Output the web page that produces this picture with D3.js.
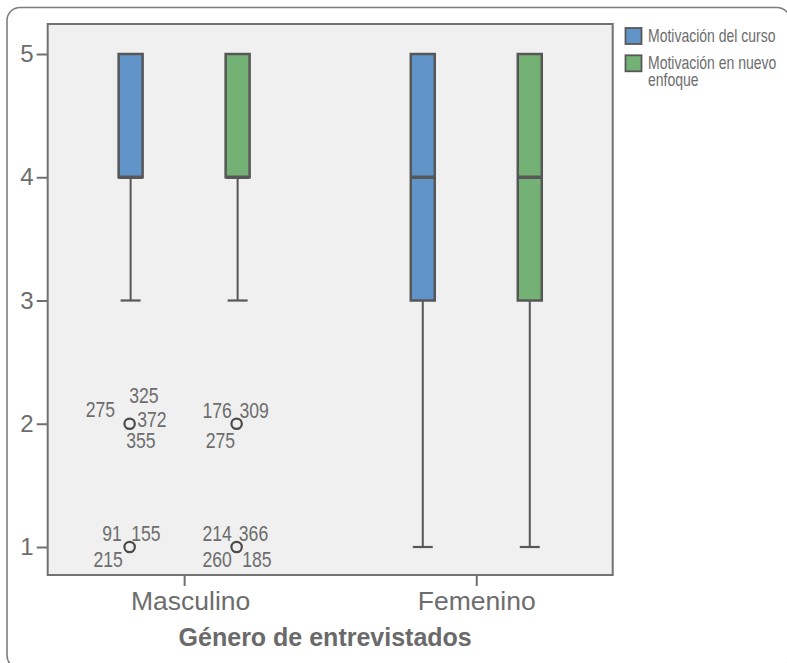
<!DOCTYPE html>
<html>
<head>
<meta charset="utf-8">
<script src="https://cdn.jsdelivr.net/npm/d3@7"></script>
<style>
  html, body { margin: 0; padding: 0; background: #fff; }
  svg { display: block; }
  .reg, .narrow { font-family: "Liberation Sans", Arial, sans-serif; }
</style>
</head>
<body>
<svg id="chart" width="787" height="663"></svg>
<script>
// Categories and series
const categories = ["Masculino", "Femenino"];
const seriesNames = ["Motivación del curso", "Motivación en nuevo enfoque"];
const seriesColors = ["#6094c9", "#73b274"];

// Box statistics per series, one value per category
const cursoLow    = [3, 1];
const cursoQ1     = [4, 3];
const cursoMedian = [4, 4];
const cursoQ3     = [5, 5];
const cursoHigh   = [5, 5];

const nuevoLow    = [3, 1];
const nuevoQ1     = [4, 3];
const nuevoMedian = [4, 4];
const nuevoQ3     = [5, 5];
const nuevoHigh   = [5, 5];

// Outlying cases (Masculino only): value and case ids
const outlierSeries = [0, 0, 1, 1];
const outlierValues = [2, 1, 2, 1];
const outlierIds = [
  ["275", "325", "372", "355"],
  ["91", "155", "215"],
  ["176", "309", "275"],
  ["214", "366", "260", "185"]
];

const yTicks = [1, 2, 3, 4, 5];
const xTitle = "Género de entrevistados";

// label placement around each outlier marker: [dx, dy, anchor]
const labelPlacement = [
  [[-14.5, -6.5, "end"], [-0.5, -20.3, "start"], [7.5, 3, "start"], [-3.5, 24.7, "start"]],
  [[-7.8, -6.3, "end"], [1.5, -6.3, "start"], [-6.8, 19.7, "end"]],
  [[-4.8, -6, "end"], [2.8, -6, "start"], [-1.5, 24.7, "end"]],
  [[-4.8, -6.3, "end"], [2.2, -6.3, "start"], [-4.8, 19.7, "end"], [5.5, 19.7, "start"]]
];

const boxes = [];
categories.forEach((c, i) => {
  boxes.push({cat: c, s: 0, low: cursoLow[i], q1: cursoQ1[i], med: cursoMedian[i], q3: cursoQ3[i], high: cursoHigh[i]});
  boxes.push({cat: c, s: 1, low: nuevoLow[i], q1: nuevoQ1[i], med: nuevoMedian[i], q3: nuevoQ3[i], high: nuevoHigh[i]});
});

const svg = d3.select("#chart");
const plot = {left: 47.7, top: 24, right: 612.7, bottom: 575};
const ink = "#575757";
const textCol = "#6d6d6d";
const narrowScale = 0.8;

// condensed text: horizontally squeezed around its anchor point
function narrowText(parent, tx, ty, str, size, anchor) {
  return parent.append("text").attr("class", "narrow")
    .attr("transform", `translate(${tx},${ty}) scale(${narrowScale},1)`)
    .attr("text-anchor", anchor || "start")
    .attr("font-size", size).attr("fill", textCol)
    .text(str);
}

// outer rounded frame (extends past the right/bottom edge)
svg.append("rect")
  .attr("x", 7).attr("y", 7.5)
  .attr("width", 783).attr("height", 661)
  .attr("rx", 13).attr("ry", 13)
  .attr("fill", "#fff").attr("stroke", "#7d7d7d").attr("stroke-width", 1.6);

const y = d3.scaleLinear().domain([1, 5]).range([547, 54]);
const x = d3.scalePoint().domain(categories).range([plot.left, plot.right]).padding(0.467);
const xs = d3.scaleBand().domain(d3.range(seriesNames.length)).range([-107, 107]);
const cx = d => x(d.cat) + xs(d.s) + xs.bandwidth() / 2;
const boxW = 24, capW = 20;

// plot background
svg.append("rect")
  .attr("x", plot.left).attr("y", plot.top)
  .attr("width", plot.right - plot.left).attr("height", plot.bottom - plot.top)
  .attr("fill", "#eff0ef");

// y axis
const yAxis = svg.append("g")
  .attr("transform", `translate(${plot.left},0)`)
  .call(d3.axisLeft(y).tickValues(yTicks).tickSize(11).tickPadding(3).tickFormat(d3.format("d")));
yAxis.select(".domain").remove();
yAxis.selectAll(".tick line").attr("stroke", "#707070").attr("stroke-width", 2);
yAxis.selectAll(".tick text").attr("class", "reg").attr("font-size", 24).attr("fill", textCol);

// x axis
const xAxis = svg.append("g")
  .attr("transform", `translate(0,${plot.bottom})`)
  .call(d3.axisBottom(x).tickSize(11).tickPadding(5));
xAxis.select(".domain").remove();
xAxis.selectAll(".tick line").attr("stroke", "#707070").attr("stroke-width", 2);
xAxis.selectAll(".tick text").attr("class", "reg").attr("font-size", 26.5).attr("fill", textCol)
  .attr("dx", (d, i) => i === 0 ? 6 : 0);

// plot frame
svg.append("rect")
  .attr("x", plot.left).attr("y", plot.top)
  .attr("width", plot.right - plot.left).attr("height", plot.bottom - plot.top)
  .attr("fill", "none").attr("stroke", "#727272").attr("stroke-width", 2);

// box plots
const g = svg.append("g");
const bx = g.selectAll("g.box").data(boxes).join("g").attr("class", "box");
bx.append("line")
  .attr("x1", cx).attr("x2", cx)
  .attr("y1", d => y(d.low)).attr("y2", d => y(d.q1))
  .attr("stroke", ink).attr("stroke-width", 2);
bx.append("line")
  .attr("x1", d => cx(d) - capW / 2).attr("x2", d => cx(d) + capW / 2)
  .attr("y1", d => y(d.low)).attr("y2", d => y(d.low))
  .attr("stroke", ink).attr("stroke-width", 2.2);
bx.append("rect")
  .attr("x", d => cx(d) - boxW / 2).attr("width", boxW)
  .attr("y", d => y(d.q3)).attr("height", d => y(d.q1) - y(d.q3))
  .attr("fill", d => seriesColors[d.s]).attr("stroke", ink).attr("stroke-width", 2.5);
bx.append("line")
  .attr("x1", d => cx(d) - boxW / 2).attr("x2", d => cx(d) + boxW / 2)
  .attr("y1", d => y(d.med)).attr("y2", d => y(d.med))
  .attr("stroke", ink).attr("stroke-width", 3.5);

// outliers with case labels
outlierValues.forEach((v, i) => {
  const d = {cat: categories[0], s: outlierSeries[i]};
  const px = cx(d) - 1, py = y(v);
  g.append("circle").attr("cx", px).attr("cy", py).attr("r", 5.2)
    .attr("fill", "none").attr("stroke", "#4a4a4a").attr("stroke-width", 2.2);
  outlierIds[i].forEach((id, k) => {
    const p = labelPlacement[i][k];
    narrowText(g, px + p[0], py + p[1], id, 22, p[2]);
  });
});

// x axis title
svg.append("text").attr("class", "reg")
  .attr("x", (plot.left + plot.right) / 2 - 5).attr("y", 646)
  .attr("text-anchor", "middle").attr("font-size", 25).attr("font-weight", "bold")
  .attr("fill", "#6a6a6a").text(xTitle);

// legend
const legendLines = [["Motivación del curso"], ["Motivación en nuevo", "enfoque"]];
const lg = svg.append("g");
seriesNames.forEach((name, i) => {
  const top = 28 + i * 27.3;
  lg.append("rect").attr("x", 625.5).attr("y", top).attr("width", 16).attr("height", 16)
    .attr("fill", seriesColors[i]).attr("stroke", ink).attr("stroke-width", 1.8);
  legendLines[i].forEach((ln, k) => {
    narrowText(lg, 648, top + 13.8 + k * 17, ln, 17.5, "start");
  });
});
</script>
</body>
</html>
